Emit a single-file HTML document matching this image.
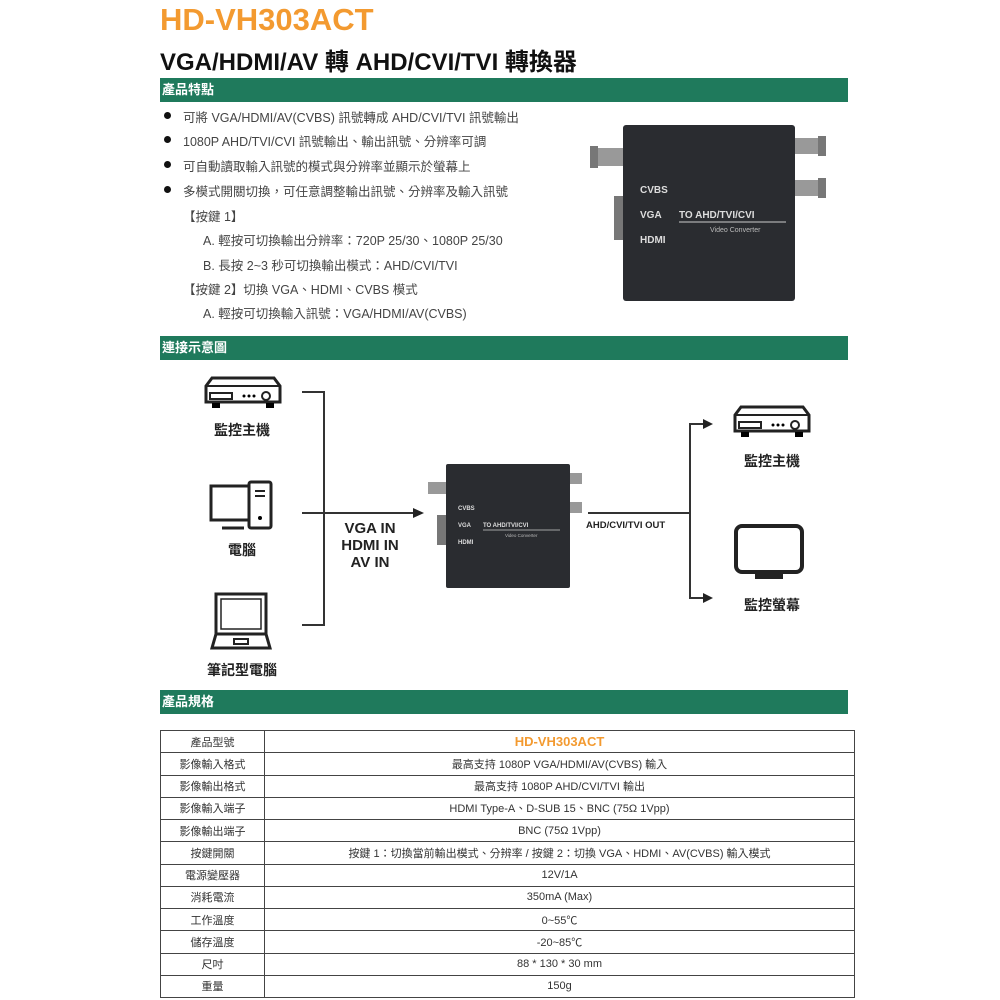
<!DOCTYPE html>
<html><head><meta charset="utf-8"><style>
*{margin:0;padding:0;box-sizing:border-box}
body{width:1000px;height:1000px;background:#fff;position:relative;overflow:hidden;font-family:"Liberation Sans","Noto Sans CJK TC",sans-serif;color:#333}
.a{position:absolute;white-space:nowrap}
.bar{position:absolute;left:160px;width:688px;height:24px;background:#1f7a5c;color:#fff;font-size:13px;font-weight:bold;line-height:24px;padding-left:2px}
.t{font-size:12.5px;color:#444}
.dot{position:absolute;width:7px;height:7px;border-radius:50%;background:#111}
.lbl{font-size:14px;font-weight:bold;color:#222;text-align:center;width:100px}
table{position:absolute;left:160px;top:730px;width:695px;height:267px;border-collapse:collapse;font-size:11px;color:#333}
td{border:1.5px solid #444;height:22.25px;text-align:center;padding:0}
td:first-child{width:104px}
</style></head><body>
<div class="a" style="left:160px;top:2px;font-size:31px;font-weight:bold;color:#f39a30">HD-VH303ACT</div>
<div class="a" style="left:160px;top:42px;font-size:24px;font-weight:bold;color:#111">VGA/HDMI/AV 轉 AHD/CVI/TVI 轉換器</div>
<div class="bar" style="top:78px">產品特點</div>
<div class="dot" style="left:164px;top:112px"></div>
<div class="dot" style="left:164px;top:136px"></div>
<div class="dot" style="left:164px;top:161px"></div>
<div class="dot" style="left:164px;top:186px"></div>
<div class="a t" style="left:183px;top:107px">可將 VGA/HDMI/AV(CVBS) 訊號轉成 AHD/CVI/TVI 訊號輸出</div>
<div class="a t" style="left:183px;top:131px">1080P AHD/TVI/CVI 訊號輸出、輸出訊號、分辨率可調</div>
<div class="a t" style="left:183px;top:156px">可自動讀取輸入訊號的模式與分辨率並顯示於螢幕上</div>
<div class="a t" style="left:183px;top:181px">多模式開關切換，可任意調整輸出訊號、分辨率及輸入訊號</div>
<div class="a t" style="left:183px;top:206px">【按鍵 1】</div>
<div class="a t" style="left:203px;top:230px">A. 輕按可切換輸出分辨率：720P 25/30、1080P 25/30</div>
<div class="a t" style="left:203px;top:255px">B. 長按 2~3 秒可切換輸出模式：AHD/CVI/TVI</div>
<div class="a t" style="left:183px;top:279px">【按鍵 2】切換 VGA、HDMI、CVBS 模式</div>
<div class="a t" style="left:203px;top:303px">A. 輕按可切換輸入訊號：VGA/HDMI/AV(CVBS)</div>

<svg class="a" style="left:590px;top:118px" width="240" height="190" viewBox="0 0 240 190">
<rect x="4" y="30" width="36" height="18" fill="#999"/><rect x="0" y="28" width="8" height="22" fill="#777"/>
<rect x="200" y="20" width="34" height="16" fill="#999"/><rect x="228" y="18" width="8" height="20" fill="#777"/>
<rect x="200" y="62" width="34" height="16" fill="#999"/><rect x="228" y="60" width="8" height="20" fill="#777"/>
<rect x="24" y="78" width="14" height="44" fill="#777"/>
<rect x="33" y="7" width="172" height="176" rx="3" fill="#2a2c30"/>
<text x="50" y="75" fill="#ddd" font-size="10" font-weight="bold" font-family="Liberation Sans">CVBS</text>
<text x="50" y="100" fill="#ddd" font-size="10" font-weight="bold" font-family="Liberation Sans">VGA</text>
<text x="50" y="125" fill="#ddd" font-size="10" font-weight="bold" font-family="Liberation Sans">HDMI</text>
<text x="89" y="100" fill="#ddd" font-size="10" font-weight="bold" font-family="Liberation Sans">TO  AHD/TVI/CVI</text>
<line x1="89" y1="104" x2="196" y2="104" stroke="#ccc"/>
<text x="120" y="114" fill="#bbb" font-size="7" font-family="Liberation Sans">Video Converter</text>
</svg>

<div class="bar" style="top:336px">連接示意圖</div>

<svg class="a" style="left:204px;top:376px" width="78" height="36"><path d="M8 2H70L76 10V26H2V10Z" fill="none" stroke="#222" stroke-width="3"/><line x1="2" y1="10" x2="76" y2="10" stroke="#222" stroke-width="2"/><rect x="6" y="17" width="22" height="6" fill="none" stroke="#222" stroke-width="2"/><circle cx="40" cy="20" r="1.5"/><circle cx="45" cy="20" r="1.5"/><circle cx="50" cy="20" r="1.5"/><circle cx="62" cy="20" r="4" fill="none" stroke="#222" stroke-width="2"/><rect x="8" y="27" width="8" height="5"/><rect x="62" y="27" width="8" height="5"/></svg>
<div class="a lbl" style="left:192px;top:420px">監控主機</div>
<svg class="a" style="left:208px;top:480px" width="70" height="52"><rect x="3" y="6" width="40" height="34" fill="none" stroke="#222" stroke-width="3"/><line x1="14" y1="48" x2="36" y2="48" stroke="#222" stroke-width="3"/><rect x="41" y="2" width="22" height="46" rx="2" fill="#fff" stroke="#222" stroke-width="3"/><line x1="47" y1="11" x2="57" y2="11" stroke="#222" stroke-width="2"/><line x1="47" y1="16" x2="57" y2="16" stroke="#222" stroke-width="2"/><circle cx="52" cy="38" r="2"/></svg>
<div class="a lbl" style="left:192px;top:540px">電腦</div>
<svg class="a" style="left:210px;top:592px" width="62" height="60"><rect x="6" y="2" width="50" height="40" fill="none" stroke="#222" stroke-width="3"/><rect x="11" y="7" width="40" height="30" fill="none" stroke="#222" stroke-width="1.5"/><path d="M6 42L2 56H60L56 42" fill="none" stroke="#222" stroke-width="3"/><rect x="24" y="47" width="14" height="5" fill="none" stroke="#222" stroke-width="2"/></svg>
<div class="a lbl" style="left:192px;top:660px">筆記型電腦</div>

<svg class="a" style="left:0;top:0" width="1000" height="1000">
<path d="M302 392H324V625H302" fill="none" stroke="#333" stroke-width="2"/>
<line x1="302" y1="513" x2="416" y2="513" stroke="#333" stroke-width="2"/>
<path d="M424 513L413 508V518Z" fill="#222"/>
<line x1="588" y1="513" x2="690" y2="513" stroke="#333" stroke-width="2"/>
<path d="M705 424H690V598H705" fill="none" stroke="#333" stroke-width="2"/>
<path d="M713 424L703 419V429Z" fill="#222"/><path d="M713 598L703 593V603Z" fill="#222"/>
</svg>
<div class="a" style="left:330px;top:520px;width:80px;text-align:center;font-size:15px;font-weight:bold;color:#222;line-height:17px;white-space:normal">VGA IN<br>HDMI IN<br>AV IN</div>
<div class="a" style="left:586px;top:520px;font-size:9.5px;font-weight:bold;color:#222">AHD/CVI/TVI OUT</div>

<svg class="a" style="left:425px;top:460px" width="160" height="130" viewBox="0 0 160 130">
<rect x="3" y="22" width="26" height="12" fill="#999"/><rect x="135" y="13" width="22" height="11" fill="#999"/><rect x="135" y="42" width="22" height="11" fill="#999"/>
<rect x="12" y="55" width="10" height="30" fill="#777"/>
<rect x="21" y="4" width="124" height="124" rx="2" fill="#2a2c30"/>
<text x="33" y="50" fill="#ddd" font-size="6" font-weight="bold" font-family="Liberation Sans">CVBS</text>
<text x="33" y="67" fill="#ddd" font-size="6" font-weight="bold" font-family="Liberation Sans">VGA</text>
<text x="33" y="84" fill="#ddd" font-size="6" font-weight="bold" font-family="Liberation Sans">HDMI</text>
<text x="58" y="67" fill="#ddd" font-size="6" font-weight="bold" font-family="Liberation Sans">TO AHD/TVI/CVI</text>
<line x1="58" y1="70" x2="135" y2="70" stroke="#ccc" stroke-width=".7"/>
<text x="80" y="77" fill="#bbb" font-size="4.5" font-family="Liberation Sans">Video Converter</text>
</svg>

<svg class="a" style="left:733px;top:405px" width="78" height="36"><path d="M8 2H70L76 10V26H2V10Z" fill="none" stroke="#222" stroke-width="3"/><line x1="2" y1="10" x2="76" y2="10" stroke="#222" stroke-width="2"/><rect x="6" y="17" width="22" height="6" fill="none" stroke="#222" stroke-width="2"/><circle cx="40" cy="20" r="1.5"/><circle cx="45" cy="20" r="1.5"/><circle cx="50" cy="20" r="1.5"/><circle cx="62" cy="20" r="4" fill="none" stroke="#222" stroke-width="2"/><rect x="8" y="27" width="8" height="5"/><rect x="62" y="27" width="8" height="5"/></svg>
<div class="a lbl" style="left:722px;top:451px">監控主機</div>
<svg class="a" style="left:733px;top:523px" width="74" height="60"><rect x="3" y="3" width="66" height="46" rx="6" fill="none" stroke="#222" stroke-width="4"/><rect x="22" y="51" width="28" height="5" fill="#222"/></svg>
<div class="a lbl" style="left:722px;top:595px">監控螢幕</div>

<div class="bar" style="top:690px">產品規格</div>
<table>
<tr><td>產品型號</td><td style="color:#f39a30;font-weight:bold;font-size:13px">HD-VH303ACT</td></tr>
<tr><td>影像輸入格式</td><td>最高支持 1080P VGA/HDMI/AV(CVBS) 輸入</td></tr>
<tr><td>影像輸出格式</td><td>最高支持 1080P AHD/CVI/TVI 輸出</td></tr>
<tr><td>影像輸入端子</td><td>HDMI Type-A、D-SUB 15、BNC (75Ω 1Vpp)</td></tr>
<tr><td>影像輸出端子</td><td>BNC (75Ω 1Vpp)</td></tr>
<tr><td>按鍵開關</td><td>按鍵 1：切換當前輸出模式、分辨率 / 按鍵 2：切換 VGA、HDMI、AV(CVBS) 輸入模式</td></tr>
<tr><td>電源變壓器</td><td>12V/1A</td></tr>
<tr><td>消耗電流</td><td>350mA (Max)</td></tr>
<tr><td>工作溫度</td><td>0~55℃</td></tr>
<tr><td>儲存溫度</td><td>-20~85℃</td></tr>
<tr><td>尺吋</td><td>88 * 130 * 30 mm</td></tr>
<tr><td>重量</td><td>150g</td></tr>
</table>
</body></html>
